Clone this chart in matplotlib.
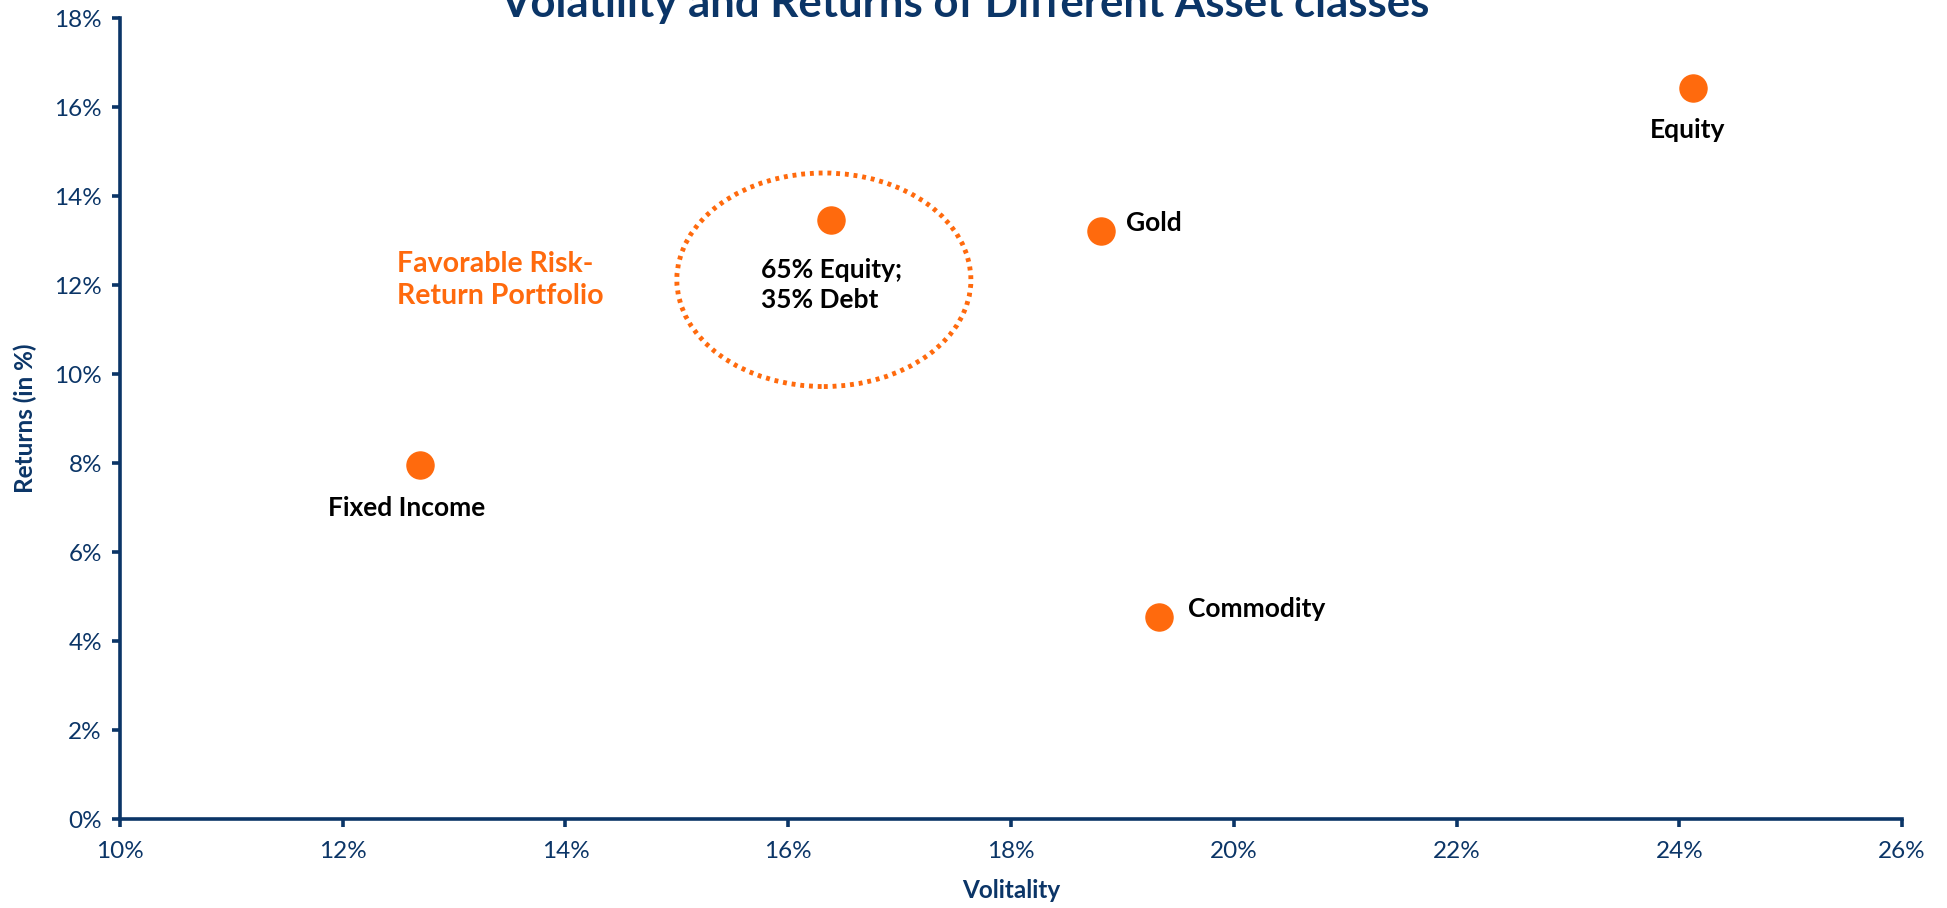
import matplotlib
matplotlib.use("Agg")
import matplotlib.pyplot as plt
from matplotlib.patches import Ellipse
from matplotlib.ticker import FuncFormatter

# valores (em %)
ativos = ["Fixed Income", "65% Equity;\n35% Debt", "Gold", "Commodity", "Equity"]
volatilidade = [12.69, 16.38, 18.81, 19.33, 24.12]
retornos = [7.96, 13.46, 13.21, 4.53, 16.42]

# posição de cada rótulo em relação ao ponto (pontos de tela)
deslocamentos = [(-9, -31), (-50, -47), (18, 6), (21, 6), (-4, -30)]
alinhamentos = ["center", "left", "left", "left", "center"]

laranja = "#FF6A0D"
azul = "#0B3567"

plt.rcParams["font.family"] = ["Lato", "DejaVu Sans"]

fig, ax = plt.subplots(figsize=(19.47, 9.08), dpi=100)
fig.subplots_adjust(left=0.0616, right=0.9769, bottom=0.098, top=0.980)

ax.scatter(volatilidade, retornos, s=380, color=laranja, zorder=3, clip_on=False)

for nome, x, y, (dx, dy), ha in zip(ativos, volatilidade, retornos, deslocamentos, alinhamentos):
    ax.annotate(nome, (x, y), xytext=(dx, dy), textcoords="offset points",
                ha=ha, va="center", fontsize=19, fontweight="bold", color="black",
                linespacing=1.3)

# elipse pontilhada em volta do portfolio
ax.add_patch(Ellipse((16.32, 12.12), 2.64, 4.8, fill=False, edgecolor=laranja,
                     linewidth=3.5, linestyle=(0, (0.8, 1.0)), zorder=2))

ax.text(12.49, 12.11, "Favorable Risk-\nReturn Portfolio", color=laranja,
        fontsize=20.5, fontweight="bold", ha="left", va="center", linespacing=1.3)

ax.set_xlim(10, 26)
ax.set_ylim(0, 18)
ax.set_xticks(range(10, 27, 2))
ax.set_yticks(range(0, 19, 2))
pct = FuncFormatter(lambda v, _: f"{v:.0f}%")
ax.xaxis.set_major_formatter(pct)
ax.yaxis.set_major_formatter(pct)

for lado in ["top", "right"]:
    ax.spines[lado].set_visible(False)
for lado in ["left", "bottom"]:
    ax.spines[lado].set_color(azul)
    ax.spines[lado].set_linewidth(2.6)
ax.tick_params(colors=azul, labelsize=17.5, width=2.6, length=6, direction="out")
ax.tick_params(axis="x", pad=10)
ax.tick_params(axis="y", pad=7)

ax.set_xlabel("Volitality", fontsize=17.5, fontweight="bold", color=azul, labelpad=12)
ax.set_ylabel("Returns (in %)", fontsize=17.5, fontweight="bold", color=azul, labelpad=12)

fig.text(965 / 1947, 1 - 17 / 908, "Volatility and Returns of Different Asset classes",
         ha="center", va="baseline", fontsize=31.5, fontweight="bold", color=azul)

fig.savefig("out.png", dpi=100)
